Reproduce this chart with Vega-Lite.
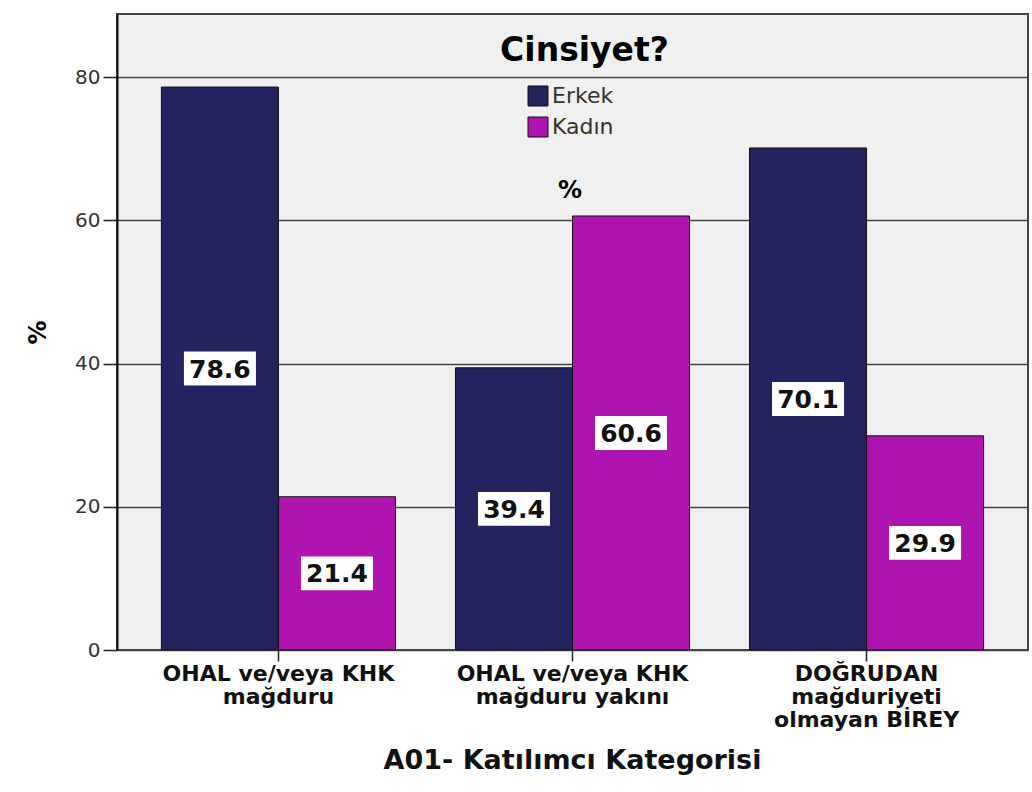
{
  "$schema": "https://vega.github.io/schema/vega-lite/v6.json",
  "width": 911,
  "height": 636,
  "autosize": "none",
  "padding": {"left": 117, "top": 14, "right": 4, "bottom": 142},
  "background": "white",
  "config": {
    "view": {"fill": "#f0f0f0", "stroke": "#444444", "strokeWidth": 2},
    "font": "DejaVu Sans"
  },
  "title": {
    "text": "Cinsiyet?",
    "orient": "top",
    "anchor": "middle",
    "offset": -80,
    "baseline": "alphabetic",
    "dx": 12,
    "fontSize": 33,
    "font": "DejaVu Sans",
    "fontWeight": "bold",
    "color": "#000000"
  },
  "data": {
    "values": [
      {"kategori": "OHAL ve/veya KHK mağduru", "cinsiyet": "Erkek", "yuzde": 78.6},
      {"kategori": "OHAL ve/veya KHK mağduru", "cinsiyet": "Kadın", "yuzde": 21.4},
      {"kategori": "OHAL ve/veya KHK mağduru yakını", "cinsiyet": "Erkek", "yuzde": 39.4},
      {"kategori": "OHAL ve/veya KHK mağduru yakını", "cinsiyet": "Kadın", "yuzde": 60.6},
      {"kategori": "DOĞRUDAN mağduriyeti olmayan BİREY", "cinsiyet": "Erkek", "yuzde": 70.1},
      {"kategori": "DOĞRUDAN mağduriyeti olmayan BİREY", "cinsiyet": "Kadın", "yuzde": 29.9}
    ]
  },
  "encoding": {
    "x": {
      "field": "kategori",
      "type": "nominal",
      "sort": ["OHAL ve/veya KHK mağduru", "OHAL ve/veya KHK mağduru yakını", "DOĞRUDAN mağduriyeti olmayan BİREY"],
      "scale": {"paddingInner": 0.204, "paddingOuter": 0.151},
      "title": "A01- Katılımcı Kategorisi",
      "axis": {
        "domain": false,
        "ticks": true,
        "tickSize": 11,
        "tickColor": "#222222",
        "tickWidth": 1.5,
        "labelAngle": 0,
        "labelFontSize": 22,
        "labelFontWeight": "bold",
        "labelColor": "#111111",
        "labelLineHeight": 23,
        "labelPadding": 2,
        "labelLimit": 0,
        "labelExpr": "datum.label == 'OHAL ve/veya KHK mağduru' ? ['OHAL ve/veya KHK', 'mağduru'] : datum.label == 'OHAL ve/veya KHK mağduru yakını' ? ['OHAL ve/veya KHK', 'mağduru yakını'] : ['DOĞRUDAN', 'mağduriyeti', 'olmayan BİREY']",
        "titleFontSize": 27,
        "titleFontWeight": "bold",
        "titleColor": "#111111",
        "titleX": 455,
        "titleY": 118,
        "titleBaseline": "alphabetic",
        "titleAlign": "center"
      }
    },
    "xOffset": {
      "field": "cinsiyet",
      "type": "nominal",
      "sort": ["Erkek", "Kadın"],
      "scale": {"paddingInner": 0, "paddingOuter": 0}
    }
  },
  "layer": [
    {
      "mark": {"type": "bar", "stroke": "#111111", "strokeWidth": 1},
      "encoding": {
        "y": {
          "field": "yuzde",
          "type": "quantitative",
          "scale": {"domain": [0, 88.8], "nice": false},
          "axis": {
            "values": [0, 20, 40, 60, 80],
            "grid": true,
            "gridColor": "#444444",
            "gridWidth": 1.5,
            "domainColor": "#111111",
            "domainWidth": 2,
            "tickSize": 14,
            "tickColor": "#222222",
            "tickWidth": 1.5,
            "labelFontSize": 20,
            "labelColor": "#333333",
            "labelPadding": 3,
            "title": "%",
            "titleFontSize": 24,
            "titleFontWeight": "bold",
            "titleColor": "#000000",
            "titleAngle": -90,
            "titleX": -79,
            "titleY": 318,
            "titleAlign": "center",
            "titleBaseline": "middle"
          }
        },
        "color": {
          "field": "cinsiyet",
          "type": "nominal",
          "scale": {"domain": ["Erkek", "Kadın"], "range": ["#24235f", "#b014b0"]},
          "legend": {
            "orient": "none",
            "legendX": 410,
            "legendY": 71,
            "direction": "vertical",
            "title": "%",
            "titleOrient": "bottom",
            "titleAnchor": "middle",
            "titleFontSize": 24,
            "titleFontWeight": "bold",
            "titleColor": "#000000",
            "titlePadding": 40,
            "symbolType": "square",
            "symbolSize": 400,
            "symbolStrokeColor": "#111111",
            "symbolStrokeWidth": 1,
            "symbolOpacity": 1,
            "labelFontSize": 22,
            "labelColor": "#333333",
            "labelOffset": 3,
            "rowPadding": 7
          }
        }
      }
    },
    {
      "mark": {"type": "point", "shape": "M-1,-0.47L1,-0.47L1,0.47L-1,0.47Z", "size": 5184, "filled": true, "fill": "#ffffff", "opacity": 1, "strokeWidth": 0},
      "encoding": {
        "y": {"field": "yuzde", "type": "quantitative", "scale": {"domain": [0, 177.6], "nice": false}, "axis": null}
      }
    },
    {
      "mark": {"type": "text", "fontSize": 25, "fontWeight": "bold", "font": "DejaVu Sans", "color": "#111111", "baseline": "middle", "align": "center", "dy": 1},
      "encoding": {
        "y": {"field": "yuzde", "type": "quantitative", "scale": {"domain": [0, 177.6], "nice": false}, "axis": null},
        "text": {"field": "yuzde", "type": "quantitative", "format": ".1f"}
      }
    }
  ],
  "resolve": {"scale": {"y": "independent"}}
}
